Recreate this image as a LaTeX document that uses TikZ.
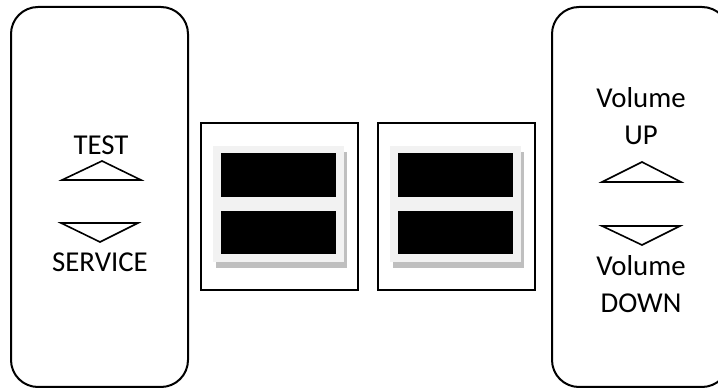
\documentclass[tikz,border=0pt]{standalone}
\usepackage{fontspec}
\setmainfont{Carlito}
\definecolor{panelgray}{HTML}{F2F2F2}
\definecolor{shadowgray}{HTML}{BFBFBF}

\begin{document}
\begin{tikzpicture}[x=0.5pt,y=-0.5pt,
  keypad/.style={draw,line width=1pt,rounded corners=13.5pt},
  keyarrow/.style={draw,line width=0.8pt,line join=miter},
  keytext/.style={font=\fontsize{14.4}{17}\selectfont,inner sep=0pt},
  frame/.style={draw,line width=0.8pt}]
  \useasboundingbox (0,0) rectangle (718,389);
  \clip (0,0) rectangle (718,389);
  % side keypads
  \draw[keypad] (11,7) rectangle (188,387);
  \draw[keypad] (552,7) rectangle (729,387);
  % left keys
  \node[keytext] (test) at (101,145) {TEST};
  \node[keytext] (service) at (100,262) {SERVICE};
  \draw[keyarrow] (62,180) -- (102,161) -- (141,180) -- cycle;
  \draw[keyarrow] (61,223) -- (138,223) -- (100,242) -- cycle;
  % right keys
  \node[keytext] (volup) at (641,98) {Volume};
  \node[keytext] (up) at (641,135) {UP};
  \node[keytext] (voldown) at (641,266) {Volume};
  \node[keytext] (down) at (641,303) {DOWN};
  \draw[keyarrow] (602,182) -- (642,162) -- (681,182) -- cycle;
  \draw[keyarrow] (602,226) -- (680,226) -- (642,245) -- cycle;
  % displays
  \foreach \dx in {0,177} {
    \begin{scope}[xshift=\dx*0.5pt]
      \draw[frame] (201,123) rectangle (358,290);
      \fill[shadowgray] (216,152) rectangle (347,268);
      \fill[panelgray] (213,146) rectangle (344,262);
      \fill[black] (221,153) rectangle (336,197);
      \fill[black] (221,211) rectangle (336,254);
    \end{scope}
  }
\end{tikzpicture}
\end{document}
